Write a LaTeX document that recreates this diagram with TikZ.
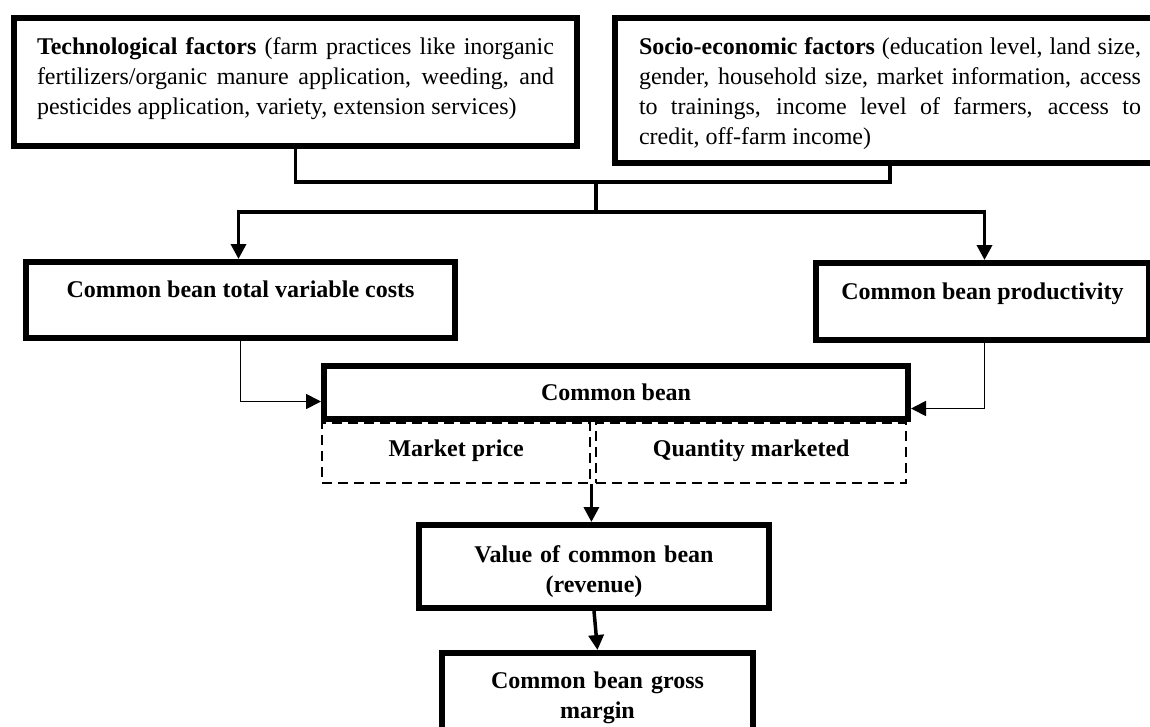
\documentclass[tikz,border=0pt]{standalone}
\usepackage{fontspec}
\setmainfont{Liberation Serif}
\usetikzlibrary{arrows.meta,calc}
\begin{document}
\begin{tikzpicture}[x=1pt,y=-1pt,
  fbox/.style={draw, line width=6pt, inner ysep=0pt, anchor=north west, font=\fontsize{24}{30}\selectfont},
  bbox/.style={fbox, inner xsep=0pt, font=\fontsize{24}{30}\selectfont\bfseries, align=center},
  dbox/.style={draw, line width=2.4pt, dash pattern=on 10pt off 6pt, inner sep=0pt, anchor=north west, font=\fontsize{24}{30}\selectfont\bfseries},
  thk/.style={line width=3.5pt},
  thn/.style={line width=1.8pt},
  arr/.style={-{Triangle[length=15pt,width=15pt]}},
]
\useasboundingbox (0,0) rectangle (1150,726);
\clip (0,0) rectangle (1150,726);

\node[fbox, text width=517pt, inner xsep=23pt, text height=36pt, text depth=92pt, align=justify] (tech) at (11,15)
  {\textbf{Technological factors} (farm practices like inorganic\linebreak fertilizers/organic manure application, weeding, and\linebreak pesticides application, variety, extension services)};
\node[fbox, text width=502pt, inner xsep=24pt, text height=36pt, text depth=109pt, align=justify] (socio) at (612,15)
  {\textbf{Socio-economic factors} (education level, land size,\linebreak gender, household size, market information, access\linebreak to trainings, income level of farmers, access to\linebreak credit, off-farm income)};

\node[bbox, minimum width=429pt, text height=35pt, text depth=41pt] (tvc) at (23,259) {Common bean total variable costs};
\node[bbox, minimum width=333pt, text height=36pt, text depth=41pt] (prod) at (813,260) {Common bean productivity};
\node[bbox, minimum width=584pt, text height=34pt, text depth=19pt] (bean) at (321,363) {Common bean};
\node[dbox, minimum width=268pt, text height=33pt, text depth=27pt] (mp) at (321,422) {Market price};
\node[dbox, minimum width=310pt, text height=33pt, text depth=27pt] (qm) at (595,422) {Quantity marketed};
\node[bbox, text width=350pt, text height=37pt, text depth=46pt] (val) at (416,522) {Value of common bean\\(revenue)};
\node[bbox, text width=311pt, text height=35pt, text depth=80pt] (gm) at (439,650) {Common bean gross\\margin};

\coordinate (j1) at (596,182);
\coordinate (j2) at (596,212);
\draw[thk] (tech.south) |- (j1) -| (socio.south);
\draw[thk] (j1) -- (j2);
\draw[thk, arr] (j2) -| ([xshift=-2pt]tvc.north);
\draw[thk, arr] (j2) -| ([xshift=2pt]prod.north);
\draw[thn, arr] (tvc.south) |- ([yshift=-9pt]bean.west);
\draw[thn, arr] ([xshift=2pt]prod.south) |- ([yshift=-16pt]bean.east);
\draw[thk, arr] (mp.south east) -- (mp.south east |- val.north);
\draw[thk, arr] (val.south) -- (gm.north);
\end{tikzpicture}
\end{document}
